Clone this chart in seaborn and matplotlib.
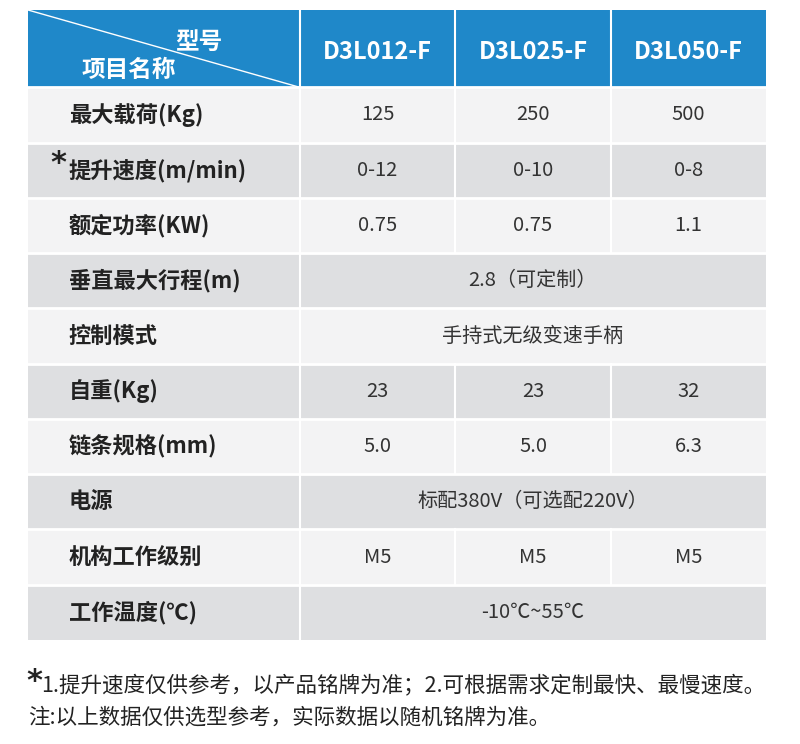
import matplotlib

matplotlib.use("Agg")

import matplotlib.pyplot as plt
import numpy as np
import seaborn as sns
from matplotlib.colors import ListedColormap

models = ["D3L012-F", "D3L025-F", "D3L050-F"]
items = ["最大载荷(Kg)", "提升速度(m/min)", "额定功率(KW)", "垂直最大行程(m)", "控制模式",
         "自重(Kg)", "链条规格(mm)", "电源", "机构工作级别", "工作温度(℃)"]
values = [
    ["125", "250", "500"],
    ["0-12", "0-10", "0-8"],
    ["0.75", "0.75", "1.1"],
    ["2.8（可定制）"],
    ["手持式无级变速手柄"],
    ["23", "23", "32"],
    ["5.0", "5.0", "6.3"],
    ["标配380V（可选配220V）"],
    ["M5", "M5", "M5"],
    ["-10℃~55℃"],
]
notes = ["1.提升速度仅供参考，以产品铭牌为准；2.可根据需求定制最快、最慢速度。",
         "注:以上数据仅供选型参考，实际数据以随机铭牌为准。"]

FONT = "Noto Sans CJK SC"
col_units = [7, 4, 4, 4]
head_units, row_units = 7, 5

# shade codes: 0 light, 1 gray, 2 blue header
row_codes = [2] + [i % 2 for i in range(len(items))]
row_heights = [head_units] + [row_units] * len(items)
shade = np.repeat(np.array(row_codes)[:, None], sum(col_units), axis=1)
shade = np.repeat(shade, row_heights, axis=0)

fig = plt.figure(figsize=(8, 7.44), dpi=100)
ax = fig.add_axes([28 / 800, 1 - 640 / 744, 738 / 800, 630 / 744])
sns.heatmap(shade, cmap=ListedColormap(["#f3f3f4", "#dedfe1", "#1f88c9"]), vmin=-0.5, vmax=2.5,
            cbar=False, ax=ax, xticklabels=False, yticklabels=False)

xe = np.cumsum([0] + col_units)
ye = np.cumsum([0] + row_heights)
W = xe[-1]
for y in ye[1:-1]:
    ax.plot([0, W], [y, y], color="white", lw=2)
for r in range(len(row_heights)):
    merged = r > 0 and len(values[r - 1]) == 1
    for x in (xe[1:-1] if not merged else xe[1:2]):
        ax.plot([x, x], [ye[r], ye[r + 1]], color="white", lw=1.5)
ax.plot([0, xe[1]], [0, ye[1]], color="white", lw=1)

# header
ax.text(xe[1] - 2.6, 2.9, "型号", color="white", fontsize=17, fontweight="bold", family=FONT,
        ha="center", va="center")
ax.text(2.6, 5.4, "项目名称", color="white", fontsize=17, fontweight="bold", family=FONT,
        ha="center", va="center")
for j, m in enumerate(models):
    ax.text((xe[j + 1] + xe[j + 2]) / 2, ye[1] / 2 + 0.3, m, color="white", fontsize=17,
            fontweight="bold", family=FONT, ha="center", va="center")

for i, (name, vals) in enumerate(zip(items, values)):
    yc = (ye[i + 1] + ye[i + 2]) / 2
    ax.text(1.05, yc, name, fontsize=16, fontweight="bold", family=FONT, color="#222222",
            ha="left", va="center")
    if i == 1:
        ax.text(1.0, yc - 0.6, "*", fontsize=22, fontweight="bold", color="#222222",
                ha="right", va="center")
    if len(vals) == 1:
        ax.text((xe[1] + W) / 2, yc, vals[0], fontsize=14.5, family=FONT, color="#333333",
                ha="center", va="center")
    else:
        for j, v in enumerate(vals):
            ax.text((xe[j + 1] + xe[j + 2]) / 2, yc, v, fontsize=14.5, family=FONT,
                    color="#333333", ha="center", va="center")

fig.text(26 / 800, 1 - 682 / 744, "*", fontsize=22, fontweight="bold", color="#222222",
         va="center")
fig.text(41 / 800, 1 - 686 / 744, notes[0], fontsize=15.5, family=FONT, color="#222222",
         va="center")
fig.text(28 / 800, 1 - 718 / 744, notes[1], fontsize=15.5, family=FONT, color="#222222",
         va="center")

fig.savefig("out.png", dpi=100, facecolor="white")
